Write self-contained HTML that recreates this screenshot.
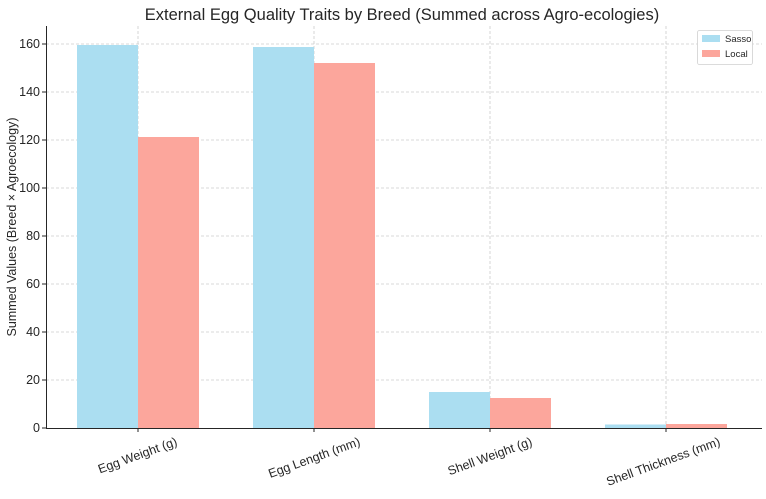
<!DOCTYPE html>
<html><head><meta charset="utf-8"><style>
html,body{margin:0;padding:0;background:#fff;}
svg text{font-family:"Liberation Sans","DejaVu Sans",sans-serif;fill:#262626;}
</style></head><body>
<svg width="766" height="494" xmlns="http://www.w3.org/2000/svg">
<rect width="766" height="494" fill="#fff"/>
<text x="402" y="20" font-size="16.5" text-anchor="middle">External Egg Quality Traits by Breed (Summed across Agro-ecologies)</text>
<g stroke="#cccccc" stroke-width="0.8" stroke-dasharray="3,2">
<line x1="46" x2="762" y1="380" y2="380"/><line x1="46" x2="762" y1="332" y2="332"/>
<line x1="46" x2="762" y1="284" y2="284"/><line x1="46" x2="762" y1="236" y2="236"/>
<line x1="46" x2="762" y1="188" y2="188"/><line x1="46" x2="762" y1="140" y2="140"/>
<line x1="46" x2="762" y1="92" y2="92"/><line x1="46" x2="762" y1="44" y2="44"/>
<line x1="138" x2="138" y1="26" y2="428"/><line x1="314" x2="314" y1="26" y2="428"/>
<line x1="490" x2="490" y1="26" y2="428"/><line x1="666" x2="666" y1="26" y2="428"/>
</g>
<g fill="#abdef1">
<rect x="77" y="45" width="61" height="383"/>
<rect x="253" y="47" width="61" height="381"/>
<rect x="429" y="392" width="61" height="36"/>
<rect x="605" y="424.5" width="61" height="3.5"/>
</g>
<g fill="#fca69c">
<rect x="138" y="137" width="61" height="291"/>
<rect x="314" y="63" width="61" height="365"/>
<rect x="490" y="398" width="61" height="30"/>
<rect x="666" y="424" width="61" height="4"/>
</g>
<g stroke="#262626" stroke-width="1" fill="none">
<path d="M46.5 26V428.5H762"/>
</g>
<g stroke="#262626" stroke-width="1">
<line x1="42" x2="46" y1="428" y2="428"/><line x1="42" x2="46" y1="380" y2="380"/>
<line x1="42" x2="46" y1="332" y2="332"/><line x1="42" x2="46" y1="284" y2="284"/>
<line x1="42" x2="46" y1="236" y2="236"/><line x1="42" x2="46" y1="188" y2="188"/>
<line x1="42" x2="46" y1="140" y2="140"/><line x1="42" x2="46" y1="92" y2="92"/>
<line x1="42" x2="46" y1="44" y2="44"/>
<line x1="138" x2="138" y1="428" y2="432"/><line x1="314" x2="314" y1="428" y2="432"/>
<line x1="490" x2="490" y1="428" y2="432"/><line x1="666" x2="666" y1="428" y2="432"/>
</g>
<g font-size="12.5" text-anchor="end">
<text x="40" y="432">0</text><text x="40" y="384">20</text><text x="40" y="336">40</text>
<text x="40" y="288">60</text><text x="40" y="240">80</text><text x="40" y="192">100</text>
<text x="40" y="144">120</text><text x="40" y="96">140</text><text x="40" y="48">160</text>
</g>
<text transform="translate(16,227) rotate(-90)" font-size="12.5" text-anchor="middle">Summed Values (Breed × Agroecology)</text>
<g font-size="12.5" text-anchor="end">
<text transform="translate(178,445) rotate(-20)">Egg Weight (g)</text>
<text transform="translate(361,445) rotate(-20)">Egg Length (mm)</text>
<text transform="translate(533,445) rotate(-20)">Shell Weight (g)</text>
<text transform="translate(721,445) rotate(-20)">Shell Thickness (mm)</text>
</g>
<rect x="697.5" y="30.5" width="55" height="34" rx="2" fill="#fff" stroke="#d0d0d0" stroke-width="0.8"/>
<rect x="702" y="35" width="18" height="7" fill="#abdef1"/>
<rect x="702" y="50" width="18" height="7" fill="#fca69c"/>
<text x="725" y="42" font-size="9.5">Sasso</text>
<text x="725" y="57" font-size="9.5">Local</text>
</svg>
</body></html>
